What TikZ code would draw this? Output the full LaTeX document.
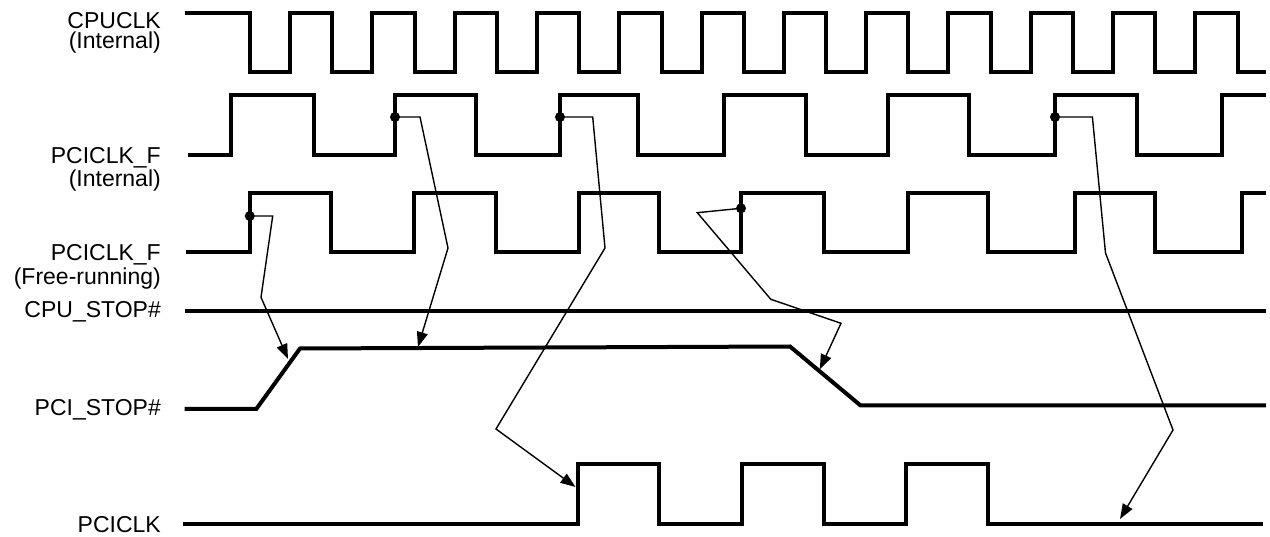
\documentclass[tikz,border=0pt]{standalone}
\usepackage{fontspec}
\setmainfont{Liberation Sans}
\usetikzlibrary{arrows.meta}
\begin{document}
\begin{tikzpicture}[x=1pt,y=-1pt,
  wave/.style={line width=4pt, line join=miter},
  conn/.style={line width=1.4pt, -{Triangle[length=15pt,width=11pt]}},
  dotmark/.style={circle, fill, inner sep=0pt, minimum size=10pt},
  lbl/.style={anchor=base east, inner sep=0pt, font=\fontsize{23}{23}\selectfont}]
\useasboundingbox (0,0) rectangle (1270,537);
\fill[white] (0,0) rectangle (1270,537);

% labels
\node[lbl] (l1a) at (161,28.5) {CPUCLK};
\node[lbl] (l1b) at (161,49) {(Internal)};
\node[lbl] (l2a) at (161,164) {PCICLK\_F};
\node[lbl] (l2b) at (161,187) {(Internal)};
\node[lbl] (l3a) at (161,261) {PCICLK\_F};
\node[lbl] (l3b) at (161,285) {(Free-running)};
\node[lbl] (l4) at (161,318) {CPU\_STOP\#};
\node[lbl] (l5) at (161,415.5) {PCI\_STOP\#};
\node[lbl] (l6) at (161,532) {PCICLK};

% CPUCLK (Internal)
\draw[wave] (184.5,13) -| (250,72.5) -| (290,13) -| (332.3,72.5) -| (372.3,13)
  -| (414.6,72.5) -| (454.6,13) -| (496.9,72.5) -| (536.9,13) -| (579.2,72.5)
  -| (619.2,13) -| (661.5,72.5) -| (701.5,13) -| (743.8,72.5) -| (783.8,13)
  -| (826.1,72.5) -| (866.1,13) -| (908.4,72.5) -| (948.4,13) -| (990.7,72.5)
  -| (1030.7,13) -| (1073,72.5) -| (1113,13) -| (1155.3,72.5) -| (1195.3,13)
  -| (1237.6,72.5) -- (1266,72.5);

% PCICLK_F (Internal)
\draw[wave] (188,155) -| (230.6,95) -| (313.5,155) -| (395,95) -| (475.5,155)
  -| (560,95) -| (638,155) -| (724,95) -| (805.5,155) -| (888,95) -| (969,155)
  -| (1055,95) -| (1137,155) -| (1222,95) -- (1266,95);

% PCICLK_F (Free-running)
\draw[wave] (185.7,251.7) -| (249.8,192.7) -| (331.4,251.7) -| (414.3,192.7)
  -| (496,251.7) -| (578.8,192.7) -| (659.4,251.7) -| (741,192.7) -| (823.9,251.7)
  -| (907.6,192.7) -| (988,251.7) -| (1075,192.7) -| (1155,251.7) -| (1242,192.7)
  -- (1266,192.7);

% CPU_STOP#
\draw[wave] (184.5,311) -- (1266,311);

% PCI_STOP#
\draw[wave] (184.5,409) -- (256.3,409) -- (300,348.5) -- (790,346.5)
  -- (860.6,405.5) -- (1266,405.5);

% PCICLK
\draw[wave] (182.5,523.5) -| (577.6,464) -| (659.4,523.5) -| (742,464)
  -| (824,523.5) -| (906,464) -| (988,523.5) -- (1263,523.5);

% dots and arrow targets
\coordinate (t0) at (288,359);
\coordinate (t1) at (418,347);
\coordinate (t2) at (575.5,487);
\coordinate (t3) at (1120,519);
\coordinate (t4) at (819.8,369.3);

\node[dotmark] (d0) at (249.8,216) {};
\node[dotmark] (d1) at (395,117) {};
\node[dotmark] (d2) at (560,117) {};
\node[dotmark] (d3) at (1055,117) {};
\node[dotmark] (d4) at (741,208.3) {};

% connectors
\draw[conn] (d0.center) -- (272.7,216) -- (261,297.3) -- (t0);
\draw[conn] (d1.center) -- (420,117) -- (448,248) -- (t1);
\draw[conn] (d2.center) -- (592.7,117) -- (605,248) -- (496,429) -- (t2);
\draw[conn] (d3.center) -- (1092.4,117) -- (1105.5,253) -- (1173,430) -- (t3);
\draw[conn] (d4.center) -- (697.3,212.7) -- (770.8,299.3) -- (841,323.3) -- (t4);
\end{tikzpicture}
\end{document}
